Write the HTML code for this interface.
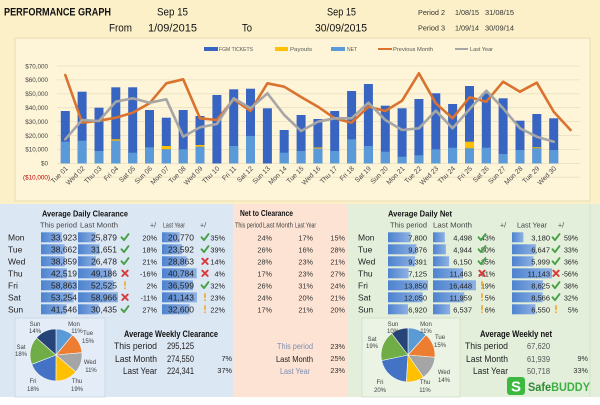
<!DOCTYPE html>
<html><head><meta charset="utf-8"><style>
html,body{margin:0;padding:0;background:#fff;}
svg{display:block;font-family:"Liberation Sans",sans-serif;}
</style></head><body>
<svg width="600" height="405" viewBox="0 0 600 405" xmlns="http://www.w3.org/2000/svg">
<defs>
<linearGradient id="db" x1="0" y1="0" x2="1" y2="0"><stop offset="0" stop-color="#4E83CF"/><stop offset="1" stop-color="#8EB1E4"/></linearGradient>
<g id="chk"><path d="M-3.5,0 L-1,2.8 L3.5,-3.2" fill="none" stroke="#45A045" stroke-width="1.9" stroke-linecap="round" stroke-linejoin="round"/></g>
<g id="crs"><path d="M-2.7,-2.7 L2.7,2.7 M2.7,-2.7 L-2.7,2.7" fill="none" stroke="#D83A3A" stroke-width="1.9" stroke-linecap="round"/></g>
<g id="exc"><rect x="-0.9" y="-4.2" width="1.8" height="5.2" rx="0.8" fill="#EFAE3A"/><circle cx="0" cy="3" r="1" fill="#EFAE3A"/></g>
</defs>

<!-- backgrounds -->
<rect x="0" y="0" width="600" height="405" fill="#FFFFFF"/>
<rect x="0" y="0" width="600" height="204" fill="#FCF0C9"/>
<rect x="15" y="38" width="575" height="163" fill="#FEF5D8" stroke="#E8DBAE" stroke-width="1"/>
<rect x="0" y="204" width="233" height="193" fill="#DCE7F4"/>
<rect x="233" y="204" width="115" height="193" fill="#FCE3D3"/>
<rect x="348" y="204" width="252" height="193" fill="#E3EFDB"/>
<line x1="590" y1="204" x2="590" y2="397" stroke="#D3E2CA" stroke-width="1"/>

<!-- header -->
<g fill="#111">
<text x="4" y="15.5" font-size="11" font-weight="bold" textLength="107" lengthAdjust="spacingAndGlyphs">PERFORMANCE GRAPH</text>
<text x="157" y="15.5" font-size="11" textLength="31" lengthAdjust="spacingAndGlyphs">Sep 15</text>
<text x="327" y="15.5" font-size="11" textLength="29" lengthAdjust="spacingAndGlyphs">Sep 15</text>
<text x="109" y="31.5" font-size="11" textLength="23" lengthAdjust="spacingAndGlyphs">From</text>
<text x="148" y="31.5" font-size="11" textLength="49" lengthAdjust="spacingAndGlyphs">1/09/2015</text>
<text x="242" y="31.5" font-size="11" textLength="10" lengthAdjust="spacingAndGlyphs">To</text>
<text x="315" y="31.5" font-size="11" textLength="52" lengthAdjust="spacingAndGlyphs">30/09/2015</text>
</g>
<g fill="#333" font-size="7.5">
<text x="418" y="15" textLength="27" lengthAdjust="spacingAndGlyphs">Period 2</text>
<text x="455" y="15" textLength="24" lengthAdjust="spacingAndGlyphs">1/08/15</text>
<text x="485" y="15" textLength="29" lengthAdjust="spacingAndGlyphs">31/08/15</text>
<text x="418" y="30.5" textLength="27" lengthAdjust="spacingAndGlyphs">Period 3</text>
<text x="455" y="30.5" textLength="24" lengthAdjust="spacingAndGlyphs">1/09/14</text>
<text x="485" y="30.5" textLength="29" lengthAdjust="spacingAndGlyphs">30/09/14</text>
</g>

<!-- legend -->
<rect x="204" y="47" width="14" height="4" fill="#3864C2"/>
<rect x="275" y="47" width="13" height="4" fill="#FFC000"/>
<rect x="331" y="47" width="14" height="4" fill="#5A9AD8"/>
<line x1="378" y1="49" x2="392" y2="49" stroke="#D9732F" stroke-width="2"/>
<line x1="455" y1="49" x2="468" y2="49" stroke="#A6A6A6" stroke-width="2"/>
<g fill="#555" font-size="5.5">
<text x="219" y="51" textLength="34" lengthAdjust="spacingAndGlyphs">FGM TICKETS</text>
<text x="290" y="51" textLength="22" lengthAdjust="spacingAndGlyphs">Payouts</text>
<text x="347" y="51" textLength="10" lengthAdjust="spacingAndGlyphs">NET</text>
<text x="393" y="51" textLength="40" lengthAdjust="spacingAndGlyphs">Previous Month</text>
<text x="470" y="51" textLength="23" lengthAdjust="spacingAndGlyphs">Last Year</text>
</g>

<!-- gridlines -->
<g stroke="#E9DFC0" stroke-width="0.8">
<line x1="57" y1="66" x2="580" y2="66"/>
<line x1="57" y1="79.9" x2="580" y2="79.9"/>
<line x1="57" y1="93.8" x2="580" y2="93.8"/>
<line x1="57" y1="107.7" x2="580" y2="107.7"/>
<line x1="57" y1="121.6" x2="580" y2="121.6"/>
<line x1="57" y1="135.5" x2="580" y2="135.5"/>
<line x1="57" y1="149.4" x2="580" y2="149.4"/>
<line x1="57" y1="163.3" x2="580" y2="163.3"/>
<line x1="57" y1="177.2" x2="580" y2="177.2"/>
</g>
<g fill="#444" font-size="6.3" text-anchor="end">
<text x="48" y="68.3">$70,000</text>
<text x="48" y="82.2">$60,000</text>
<text x="48" y="96.1">$50,000</text>
<text x="48" y="110">$40,000</text>
<text x="48" y="123.9">$30,000</text>
<text x="48" y="137.8">$20,000</text>
<text x="48" y="151.7">$10,000</text>
<text x="48" y="165.6">$0</text>
<text x="50" y="179.5" fill="#C00000">($10,000)</text>
</g>

<!-- bars dark -->
<g fill="#3864C2">
<rect x="60.8" y="111" width="9" height="52.5"/>
<rect x="77.6" y="91.7" width="9" height="71.8"/>
<rect x="94.5" y="107.7" width="9" height="55.8"/>
<rect x="111.3" y="87.3" width="9" height="76.2"/>
<rect x="128.2" y="87.3" width="9" height="76.2"/>
<rect x="145" y="110" width="9" height="53.5"/>
<rect x="161.8" y="117.7" width="9" height="45.8"/>
<rect x="178.7" y="110" width="9" height="53.5"/>
<rect x="195.5" y="116" width="9" height="47.5"/>
<rect x="212.4" y="95" width="9" height="68.5"/>
<rect x="229.2" y="89.3" width="9" height="74.2"/>
<rect x="246" y="88.7" width="9" height="74.8"/>
<rect x="262.9" y="108.3" width="9" height="55.2"/>
<rect x="279.7" y="130" width="9" height="33.5"/>
<rect x="296.6" y="115" width="9" height="48.5"/>
<rect x="313.4" y="119" width="9" height="44.5"/>
<rect x="330.2" y="111" width="9" height="52.5"/>
<rect x="347.1" y="91" width="9" height="72.5"/>
<rect x="363.9" y="84" width="9" height="79.5"/>
<rect x="380.8" y="105.7" width="9" height="57.8"/>
<rect x="397.6" y="108.3" width="9" height="55.2"/>
<rect x="414.4" y="99" width="9" height="64.5"/>
<rect x="431.3" y="93.3" width="9" height="70.2"/>
<rect x="448.1" y="104" width="9" height="59.5"/>
<rect x="465" y="86" width="9" height="77.5"/>
<rect x="481.8" y="93.3" width="9" height="70.2"/>
<rect x="498.6" y="98.3" width="9" height="65.2"/>
<rect x="515.5" y="120.7" width="9" height="42.8"/>
<rect x="532.3" y="114" width="9" height="49.5"/>
<rect x="549.2" y="118.3" width="9" height="45.2"/>
</g>
<!-- bars light (NET) -->
<g fill="#5A9AD8">
<rect x="60.8" y="141.7" width="9" height="21.8"/>
<rect x="77.6" y="140.7" width="9" height="22.8"/>
<rect x="94.5" y="151" width="9" height="12.5"/>
<rect x="111.3" y="140.7" width="9" height="22.8"/>
<rect x="128.2" y="152.7" width="9" height="10.8"/>
<rect x="145" y="147.3" width="9" height="16.2"/>
<rect x="161.8" y="149.3" width="9" height="14.2"/>
<rect x="178.7" y="149.3" width="9" height="14.2"/>
<rect x="195.5" y="146.7" width="9" height="16.8"/>
<rect x="229.2" y="146" width="9" height="17.5"/>
<rect x="246" y="136" width="9" height="27.5"/>
<rect x="279.7" y="152.7" width="9" height="10.8"/>
<rect x="296.6" y="151" width="9" height="12.5"/>
<rect x="313.4" y="148.5" width="9" height="15"/>
<rect x="330.2" y="151" width="9" height="12.5"/>
<rect x="347.1" y="139.3" width="9" height="24.2"/>
<rect x="363.9" y="146" width="9" height="17.5"/>
<rect x="380.8" y="151.7" width="9" height="11.8"/>
<rect x="397.6" y="156.7" width="9" height="6.8"/>
<rect x="414.4" y="155.3" width="9" height="8.2"/>
<rect x="431.3" y="149.3" width="9" height="14.2"/>
<rect x="448.1" y="147.7" width="9" height="15.8"/>
<rect x="465" y="148.3" width="9" height="15.2"/>
<rect x="481.8" y="147.7" width="9" height="15.8"/>
<rect x="498.6" y="154" width="9" height="9.5"/>
<rect x="515.5" y="150" width="9" height="13.5"/>
<rect x="532.3" y="148.3" width="9" height="15.2"/>
<rect x="549.2" y="150" width="9" height="13.5"/>
</g>
<!-- payouts -->
<g fill="#FFC000">
<rect x="111.3" y="139.3" width="9" height="1.4"/>
<rect x="161.8" y="146" width="9" height="3.3"/>
<rect x="195.5" y="145" width="9" height="1.7"/>
<rect x="313.4" y="147.5" width="9" height="1"/>
<rect x="465" y="141.7" width="9" height="6.6"/>
<rect x="532.3" y="147.3" width="9" height="1"/>
</g>

<!-- lines -->
<polyline fill="none" stroke="#D9732F" stroke-width="2.6" stroke-linejoin="round" stroke-linecap="round" points="65.3,75 82.1,122.7 99,120.7 115.8,117.7 132.7,112.7 149.5,103.3 166.3,83.3 183.2,79.3 200,118.3 216.9,120 233.7,99.3 250.5,111 267.4,83.3 284.2,86.7 301.1,97 317.9,106.7 334.7,118.3 351.6,122.7 368.4,106.7 385.3,111 402.1,100.7 418.9,73.3 435.8,103.3 452.6,118.3 469.5,97.3 486.3,101.7 503.1,81.7 520,91.7 536.8,82.7 553.7,111.7 570.5,130"/>
<polyline fill="none" stroke="#A6A6A6" stroke-width="2.6" stroke-linejoin="round" stroke-linecap="round" points="65.3,139.3 82.1,120 99,121 115.8,101.7 132.7,98.3 149.5,102.7 166.3,99.3 183.2,136.7 200,127.3 216.9,124 233.7,98.3 250.5,108.3 267.4,93.3 284.2,115 301.1,131 317.9,121.7 334.7,118.3 351.6,118.3 368.4,102.7 385.3,120 402.1,130 418.9,128.3 435.8,110.7 452.6,128.3 469.5,109.3 486.3,90.7 503.1,108.3 520,128.3 536.8,136.7 553.7,141.7"/>

<!-- x labels -->
<g fill="#444" font-size="6.8" text-anchor="end">
<text transform="translate(68.3,169) rotate(-45)">Tue 01</text>
<text transform="translate(85.1,169) rotate(-45)">Wed 02</text>
<text transform="translate(102,169) rotate(-45)">Thu 03</text>
<text transform="translate(118.8,169) rotate(-45)">Fri 04</text>
<text transform="translate(135.7,169) rotate(-45)">Sat 05</text>
<text transform="translate(152.5,169) rotate(-45)">Sun 06</text>
<text transform="translate(169.3,169) rotate(-45)">Mon 07</text>
<text transform="translate(186.2,169) rotate(-45)">Tue 08</text>
<text transform="translate(203,169) rotate(-45)">Wed 09</text>
<text transform="translate(219.9,169) rotate(-45)">Thu 10</text>
<text transform="translate(236.7,169) rotate(-45)">Fri 11</text>
<text transform="translate(253.5,169) rotate(-45)">Sat 12</text>
<text transform="translate(270.4,169) rotate(-45)">Sun 13</text>
<text transform="translate(287.2,169) rotate(-45)">Mon 14</text>
<text transform="translate(304.1,169) rotate(-45)">Tue 15</text>
<text transform="translate(320.9,169) rotate(-45)">Wed 16</text>
<text transform="translate(337.7,169) rotate(-45)">Thu 17</text>
<text transform="translate(354.6,169) rotate(-45)">Fri 18</text>
<text transform="translate(371.4,169) rotate(-45)">Sat 19</text>
<text transform="translate(388.3,169) rotate(-45)">Sun 20</text>
<text transform="translate(405.1,169) rotate(-45)">Mon 21</text>
<text transform="translate(421.9,169) rotate(-45)">Tue 22</text>
<text transform="translate(438.8,169) rotate(-45)">Wed 23</text>
<text transform="translate(455.6,169) rotate(-45)">Thu 24</text>
<text transform="translate(472.5,169) rotate(-45)">Fri 25</text>
<text transform="translate(489.3,169) rotate(-45)">Sat 26</text>
<text transform="translate(506.1,169) rotate(-45)">Sun 27</text>
<text transform="translate(523,169) rotate(-45)">Mon 28</text>
<text transform="translate(539.8,169) rotate(-45)">Tue 29</text>
<text transform="translate(556.7,169) rotate(-45)">Wed 30</text>
</g>

<!-- ===== Left table: Average Daily Clearance ===== -->
<text x="42" y="216.5" font-size="8.5" font-weight="bold" fill="#111" textLength="86" lengthAdjust="spacingAndGlyphs">Average Daily Clearance</text>
<g fill="#444" font-size="7">
<text x="40" y="227.5" textLength="37" lengthAdjust="spacingAndGlyphs">This period</text>
<text x="80" y="227.5" textLength="38" lengthAdjust="spacingAndGlyphs">Last Month</text>
<text x="150" y="227.5">+/</text>
<text x="163" y="227.5" textLength="22" lengthAdjust="spacingAndGlyphs">Last Year</text>
<text x="200" y="227.5">+/</text>
</g>
<g fill="url(#db)">
<rect x="41" y="232.3" width="20.7" height="10"/><rect x="78" y="232.3" width="17.6" height="10"/><rect x="162" y="232.3" width="17.7" height="10"/>
<rect x="41" y="244.3" width="23.6" height="10"/><rect x="78" y="244.3" width="21.5" height="10"/><rect x="162" y="244.3" width="20.1" height="10"/>
<rect x="41" y="256.3" width="23.8" height="10"/><rect x="78" y="256.3" width="18" height="10"/><rect x="162" y="256.3" width="24.6" height="10"/>
<rect x="41" y="268.3" width="26" height="10"/><rect x="78" y="268.3" width="33.4" height="10"/><rect x="162" y="268.3" width="34.7" height="10"/>
<rect x="41" y="280.3" width="36" height="10"/><rect x="78" y="280.3" width="35.6" height="10"/><rect x="162" y="280.3" width="31.1" height="10"/>
<rect x="41" y="292.3" width="32.6" height="10"/><rect x="78" y="292.3" width="40" height="10"/><rect x="162" y="292.3" width="35" height="10"/>
<rect x="41" y="304.3" width="25.4" height="10"/><rect x="78" y="304.3" width="20.6" height="10"/><rect x="162" y="304.3" width="27.7" height="10"/>
</g>
<g fill="#222" font-size="8.5">
<text x="8" y="240.3">Mon</text><text x="8" y="252.3">Tue</text><text x="8" y="264.3">Wed</text><text x="8" y="276.3">Thu</text><text x="8" y="288.3">Fri</text><text x="8" y="300.3">Sat</text><text x="8" y="312.3">Sun</text>
</g>
<g fill="#222" font-size="8.5" text-anchor="end">
<text x="77" y="240.3">33,923</text><text x="117" y="240.3">25,879</text><text x="194" y="240.3">20,770</text>
<text x="77" y="252.3">38,662</text><text x="117" y="252.3">31,651</text><text x="194" y="252.3">23,592</text>
<text x="77" y="264.3">38,859</text><text x="117" y="264.3">26,478</text><text x="194" y="264.3">28,863</text>
<text x="77" y="276.3">42,519</text><text x="117" y="276.3">49,186</text><text x="194" y="276.3">40,784</text>
<text x="77" y="288.3">58,863</text><text x="117" y="288.3">52,525</text><text x="194" y="288.3">36,599</text>
<text x="77" y="300.3">53,254</text><text x="117" y="300.3">58,966</text><text x="194" y="300.3">41,143</text>
<text x="77" y="312.3">41,546</text><text x="117" y="312.3">30,435</text><text x="194" y="312.3">32,600</text>
</g>
<g fill="#222" font-size="7.3" text-anchor="end">
<text x="157" y="240.3">20%</text><text x="225" y="240.3">35%</text>
<text x="157" y="252.3">18%</text><text x="225" y="252.3">39%</text>
<text x="157" y="264.3">21%</text><text x="225" y="264.3">14%</text>
<text x="157" y="276.3">-16%</text><text x="225" y="276.3">4%</text>
<text x="157" y="288.3">2%</text><text x="225" y="288.3">32%</text>
<text x="157" y="300.3">-11%</text><text x="225" y="300.3">23%</text>
<text x="157" y="312.3">27%</text><text x="225" y="312.3">22%</text>
</g>
<use href="#chk" x="125" y="237.3"/><use href="#chk" x="205" y="237.3"/>
<use href="#chk" x="125" y="249.3"/><use href="#chk" x="205" y="249.3"/>
<use href="#chk" x="125" y="261.3"/><use href="#crs" x="205" y="261.3"/>
<use href="#crs" x="125" y="273.3"/><use href="#crs" x="205" y="273.3"/>
<use href="#exc" x="125" y="285.3"/><use href="#chk" x="205" y="285.3"/>
<use href="#crs" x="125" y="297.3"/><use href="#exc" x="205" y="297.3"/>
<use href="#chk" x="125" y="309.3"/><use href="#exc" x="205" y="309.3"/>

<!-- ===== Middle: Net to Clearance ===== -->
<text x="240" y="216" font-size="8.5" font-weight="bold" fill="#111" textLength="53" lengthAdjust="spacingAndGlyphs">Net to Clearance</text>
<g fill="#444" font-size="7">
<text x="235" y="227.5" textLength="27" lengthAdjust="spacingAndGlyphs">This period</text>
<text x="263" y="227.5" textLength="30" lengthAdjust="spacingAndGlyphs">Last Month</text>
<text x="295" y="227.5" textLength="21" lengthAdjust="spacingAndGlyphs">Last Year</text>
</g>
<g fill="#333" font-size="7.3" text-anchor="end">
<text x="272" y="240.3">24%</text><text x="313" y="240.3">17%</text><text x="345" y="240.3">15%</text>
<text x="272" y="252.3">26%</text><text x="313" y="252.3">16%</text><text x="345" y="252.3">28%</text>
<text x="272" y="264.3">28%</text><text x="313" y="264.3">23%</text><text x="345" y="264.3">21%</text>
<text x="272" y="276.3">17%</text><text x="313" y="276.3">23%</text><text x="345" y="276.3">27%</text>
<text x="272" y="288.3">26%</text><text x="313" y="288.3">31%</text><text x="345" y="288.3">24%</text>
<text x="272" y="300.3">24%</text><text x="313" y="300.3">20%</text><text x="345" y="300.3">21%</text>
<text x="272" y="312.3">17%</text><text x="313" y="312.3">21%</text><text x="345" y="312.3">20%</text>
</g>

<!-- ===== Right table: Average Daily Net ===== -->
<text x="388" y="216.5" font-size="8.5" font-weight="bold" fill="#111" textLength="64" lengthAdjust="spacingAndGlyphs">Average Daily Net</text>
<g fill="#444" font-size="7">
<text x="390" y="227.5" textLength="37" lengthAdjust="spacingAndGlyphs">This period</text>
<text x="433" y="227.5" textLength="39" lengthAdjust="spacingAndGlyphs">Last Month</text>
<text x="500" y="227.5">+/</text>
<text x="517" y="227.5" textLength="30" lengthAdjust="spacingAndGlyphs">Last Year</text>
<text x="558" y="227.5">+/</text>
</g>
<g fill="url(#db)">
<rect x="388" y="232.3" width="22.5" height="10"/><rect x="433" y="232.3" width="11.8" height="10"/><rect x="512" y="232.3" width="11.4" height="10"/>
<rect x="388" y="244.3" width="28.5" height="10"/><rect x="433" y="244.3" width="12.9" height="10"/><rect x="512" y="244.3" width="23.9" height="10"/>
<rect x="388" y="256.3" width="27.1" height="10"/><rect x="433" y="256.3" width="16.1" height="10"/><rect x="512" y="256.3" width="21.5" height="10"/>
<rect x="388" y="268.3" width="20.6" height="10"/><rect x="433" y="268.3" width="30" height="10"/><rect x="512" y="268.3" width="40" height="10"/>
<rect x="388" y="280.3" width="40" height="10"/><rect x="433" y="280.3" width="43" height="10"/><rect x="512" y="280.3" width="31" height="10"/>
<rect x="388" y="292.3" width="34.8" height="10"/><rect x="433" y="292.3" width="31.3" height="10"/><rect x="512" y="292.3" width="30.7" height="10"/>
<rect x="388" y="304.3" width="20" height="10"/><rect x="433" y="304.3" width="17.1" height="10"/><rect x="512" y="304.3" width="23.5" height="10"/>
</g>
<g fill="#222" font-size="8.5">
<text x="358" y="240.3">Mon</text><text x="358" y="252.3">Tue</text><text x="358" y="264.3">Wed</text><text x="358" y="276.3">Thu</text><text x="358" y="288.3">Fri</text><text x="358" y="300.3">Sat</text><text x="358" y="312.3">Sun</text>
</g>
<g fill="#222" font-size="7.5" text-anchor="end">
<text x="427" y="240.3">7,800</text><text x="472" y="240.3">4,498</text><text x="550" y="240.3">3,180</text>
<text x="427" y="252.3">9,876</text><text x="472" y="252.3">4,944</text><text x="550" y="252.3">6,647</text>
<text x="427" y="264.3">9,391</text><text x="472" y="264.3">6,150</text><text x="550" y="264.3">5,999</text>
<text x="427" y="276.3">7,125</text><text x="472" y="276.3">11,463</text><text x="550" y="276.3">11,143</text>
<text x="427" y="288.3">13,850</text><text x="472" y="288.3">16,448</text><text x="550" y="288.3">8,625</text>
<text x="427" y="300.3">12,050</text><text x="472" y="300.3">11,959</text><text x="550" y="300.3">8,566</text>
<text x="427" y="312.3">6,920</text><text x="472" y="312.3">6,537</text><text x="550" y="312.3">6,550</text>
</g>
<g fill="#222" font-size="7" text-anchor="end">
<text x="495" y="240.3">43%</text><text x="578" y="240.3">59%</text>
<text x="495" y="252.3">50%</text><text x="578" y="252.3">33%</text>
<text x="495" y="264.3">35%</text><text x="578" y="264.3">36%</text>
<text x="495" y="276.3">-61%</text><text x="578" y="276.3">-56%</text>
<text x="495" y="288.3">19%</text><text x="578" y="288.3">38%</text>
<text x="495" y="300.3">5%</text><text x="578" y="300.3">32%</text>
<text x="495" y="312.3">6%</text><text x="578" y="312.3">5%</text>
</g>
<use href="#chk" x="482" y="237.3"/><use href="#chk" x="556" y="237.3"/>
<use href="#chk" x="482" y="249.3"/><use href="#chk" x="556" y="249.3"/>
<use href="#chk" x="482" y="261.3"/><use href="#chk" x="556" y="261.3"/>
<use href="#crs" x="482" y="273.3"/><use href="#crs" x="556" y="273.3"/>
<use href="#exc" x="482" y="285.3"/><use href="#chk" x="556" y="285.3"/>
<use href="#exc" x="482" y="297.3"/><use href="#chk" x="556" y="297.3"/>
<use href="#exc" x="482" y="309.3"/><use href="#exc" x="556" y="309.3"/>

<!-- ===== Left pie ===== -->
<rect x="15" y="318" width="90" height="79" fill="#E3ECF7" stroke="#C9D6E7" stroke-width="0.8"/>
<g stroke="#F4F7FB" stroke-width="0.6">
<path d="M56,355 L56,329 A26,26 0 0 1 72.61,334.99 Z" fill="#5B9BD5"/>
<path d="M56,355 L72.61,334.99 A26,26 0 0 1 81.9,352.73 Z" fill="#ED7D31"/>
<path d="M56,355 L81.9,352.73 A26,26 0 0 1 75.8,371.85 Z" fill="#A5A5A5"/>
<path d="M56,355 L75.8,371.85 A26,26 0 0 1 55.91,381 Z" fill="#FFC000"/>
<path d="M56,355 L55.91,381 A26,26 0 0 1 31.73,364.32 Z" fill="#4472C4"/>
<path d="M56,355 L31.73,364.32 A26,26 0 0 1 36.5,337.81 Z" fill="#70AD47"/>
<path d="M56,355 L36.5,337.81 A26,26 0 0 1 56,329 Z" fill="#264478"/>
</g>
<g fill="#404040" font-size="6" text-anchor="middle">
<text x="35" y="326">Sun</text><text x="35" y="333">14%</text>
<text x="74" y="326">Mon</text><text x="77" y="333">11%</text>
<text x="88" y="335">Tue</text><text x="88" y="343">15%</text>
<text x="90" y="364">Wed</text><text x="91" y="372">11%</text>
<text x="77" y="383">Thu</text><text x="77" y="391">19%</text>
<text x="33" y="383">Fri</text><text x="33" y="391">18%</text>
<text x="21" y="349">Sat</text><text x="21" y="356">18%</text>
</g>
<text x="124" y="337" font-size="9" font-weight="bold" fill="#111" textLength="94" lengthAdjust="spacingAndGlyphs">Average Weekly Clearance</text>
<g fill="#222" font-size="9">
<text x="157" y="349" text-anchor="end" textLength="43" lengthAdjust="spacingAndGlyphs">This period</text>
<text x="157" y="362" text-anchor="end" textLength="42" lengthAdjust="spacingAndGlyphs">Last Month</text>
<text x="157" y="374" text-anchor="end" textLength="34" lengthAdjust="spacingAndGlyphs">Last Year</text>
<text x="167" y="349" textLength="27" lengthAdjust="spacingAndGlyphs">295,125</text>
<text x="167" y="362" textLength="27" lengthAdjust="spacingAndGlyphs">274,550</text>
<text x="167" y="374" textLength="27" lengthAdjust="spacingAndGlyphs">224,341</text>
</g>
<g fill="#222" font-size="7.3" text-anchor="end">
<text x="232" y="361">7%</text>
<text x="232" y="373">37%</text>
</g>

<!-- middle lower -->
<g font-size="8" text-anchor="end">
<text x="313" y="349" fill="#7E8DB3" textLength="36" lengthAdjust="spacingAndGlyphs">This period</text>
<text x="313" y="362" fill="#222" textLength="37" lengthAdjust="spacingAndGlyphs">Last Month</text>
<text x="310" y="374" fill="#7E8DB3" textLength="30" lengthAdjust="spacingAndGlyphs">Last Year</text>
</g>
<g fill="#333" font-size="7.3" text-anchor="end">
<text x="345" y="349">23%</text>
<text x="345" y="361">25%</text>
<text x="345" y="373">23%</text>
</g>

<!-- ===== Right pie ===== -->
<rect x="362" y="318" width="98" height="79" fill="#EAF3E4" stroke="#D0DEC7" stroke-width="0.8"/>
<g stroke="#F4F8F1" stroke-width="0.6">
<path d="M408,355 L408,328 A27,27 0 0 1 426.03,334.9 Z" fill="#5B9BD5"/>
<path d="M408,355 L426.03,334.9 A27,27 0 0 1 434.9,357.35 Z" fill="#ED7D31"/>
<path d="M408,355 L434.9,357.35 A27,27 0 0 1 423.33,377.22 Z" fill="#A5A5A5"/>
<path d="M408,355 L423.33,377.22 A27,27 0 0 1 406.26,381.94 Z" fill="#FFC000"/>
<path d="M408,355 L406.26,381.94 A27,27 0 0 1 381.58,360.57 Z" fill="#4472C4"/>
<path d="M408,355 L381.58,360.57 A27,27 0 0 1 391.68,333.49 Z" fill="#70AD47"/>
<path d="M408,355 L391.68,333.49 A27,27 0 0 1 408,328 Z" fill="#264478"/>
</g>
<g fill="#404040" font-size="6" text-anchor="middle">
<text x="393" y="326">Sun</text><text x="393" y="333">10%</text>
<text x="426" y="326">Mon</text><text x="426" y="333">11%</text>
<text x="440" y="339">Tue</text><text x="440" y="347">15%</text>
<text x="444" y="374">Wed</text><text x="444" y="382">14%</text>
<text x="425" y="384">Thu</text><text x="425" y="392">11%</text>
<text x="380" y="384">Fri</text><text x="380" y="392">20%</text>
<text x="372" y="341">Sat</text><text x="372" y="348">19%</text>
</g>
<text x="480" y="337" font-size="9" font-weight="bold" fill="#111" textLength="72" lengthAdjust="spacingAndGlyphs">Average Weekly net</text>
<g fill="#222" font-size="9">
<text x="508" y="349" text-anchor="end" textLength="43" lengthAdjust="spacingAndGlyphs">This period</text>
<text x="508" y="362" text-anchor="end" textLength="42" lengthAdjust="spacingAndGlyphs">Last Month</text>
<text x="508" y="374" text-anchor="end" textLength="35" lengthAdjust="spacingAndGlyphs">Last Year</text>
</g>
<g fill="#555" font-size="8.5">
<text x="527" y="349" textLength="23" lengthAdjust="spacingAndGlyphs">67,620</text>
<text x="527" y="362" textLength="23" lengthAdjust="spacingAndGlyphs">61,939</text>
<text x="527" y="374" textLength="23" lengthAdjust="spacingAndGlyphs">50,718</text>
</g>
<g fill="#333" font-size="7.3" text-anchor="end">
<text x="588" y="361">9%</text>
<text x="588" y="373">33%</text>
</g>

<!-- SafeBUDDY logo -->
<rect x="507" y="377" width="18" height="18" rx="3" fill="#3DB940"/>
<text x="516" y="391.5" font-size="15" font-weight="bold" fill="#FFFFFF" text-anchor="middle">S</text>
<text x="528" y="391" font-size="12" font-weight="bold" textLength="62" lengthAdjust="spacingAndGlyphs"><tspan fill="#2F8A33">Safe</tspan><tspan fill="#3CB043">BUDDY</tspan></text>
</svg>
</body></html>
